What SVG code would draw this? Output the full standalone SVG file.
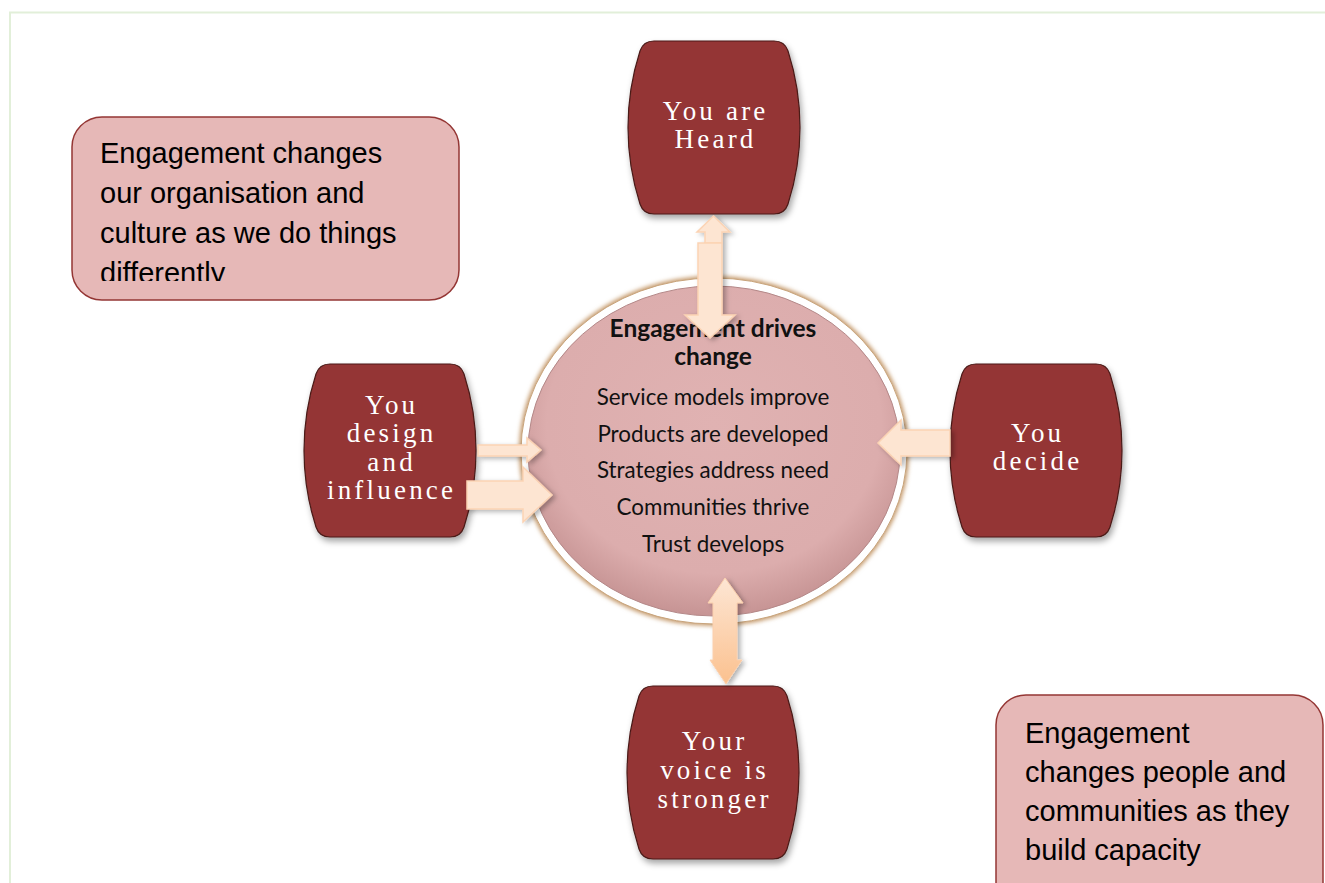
<svg xmlns="http://www.w3.org/2000/svg" xmlns:xlink="http://www.w3.org/1999/xlink" width="1325" height="883" viewBox="0 0 1325 883">
  <style>
    .box { fill: #e6b8b7; stroke: #943634; stroke-width: 1.5; }
    .boxtext { font-family: "Liberation Sans", Arial, sans-serif; font-size: 29px; fill: #000; }
    .barrel { fill: #943634; stroke: #4a1a19; stroke-width: 1.2; }
    .ntext { font-family: "Liberation Serif", "Times New Roman", serif; font-size: 27px; fill: #fff; letter-spacing: 3.2px; text-anchor: middle; }
    .ctext { font-family: Lato, "Open Sans", sans-serif; font-size: 22.4px; fill: #111; text-anchor: middle; }
    .ctitle { font-weight: bold; font-size: 24.5px; }
    .arrow { fill: #fde5d2; stroke: #fbd3b4; stroke-width: 1.5; }
  </style>
  <defs>
    <path id="barrel" d="M 26,0 H 146 C 154,0 158,4 160,10 A 250 250 0 0 1 160,163 C 158,169 154,173 146,173 H 26 C 18,173 14,169 12,163 A 250 250 0 0 1 12,10 C 14,4 18,0 26,0 Z"/>
    <filter id="shadow" x="-20%" y="-20%" width="150%" height="150%">
      <feDropShadow dx="2" dy="4" stdDeviation="3" flood-color="#000" flood-opacity="0.35"/>
    </filter>
    <filter id="ashadow" x="-30%" y="-30%" width="170%" height="170%">
      <feDropShadow dx="3" dy="2" stdDeviation="2.5" flood-color="#000" flood-opacity="0.3"/>
    </filter>
    <filter id="glow" x="-10%" y="-10%" width="120%" height="120%">
      <feGaussianBlur stdDeviation="2"/>
    </filter>
    <radialGradient id="pink" cx="50%" cy="42%" r="60%">
      <stop offset="0" stop-color="#e0b2b2"/>
      <stop offset="0.75" stop-color="#dcadad"/>
      <stop offset="1" stop-color="#c39090"/>
    </radialGradient>
    <linearGradient id="peachV" x1="0" y1="0" x2="0" y2="1">
      <stop offset="0" stop-color="#fde6d4"/>
      <stop offset="1" stop-color="#fbc18f"/>
    </linearGradient>
    <clipPath id="clipTL">
      <rect x="72" y="117" width="388" height="164"/>
    </clipPath>
  </defs>

  <!-- frame -->
  <g id="frame" fill="none" stroke="#e2efd9" stroke-width="2">
    <line x1="9" y1="12.5" x2="1325" y2="12.5"/>
    <line x1="10" y1="12" x2="10" y2="883"/>
  </g>

  <!-- text boxes -->
  <g id="box-organisation">
    <rect class="box" x="72" y="117" width="387" height="183" rx="30" ry="30"/>
    <g clip-path="url(#clipTL)">
      <text class="boxtext" x="100" y="163">Engagement changes</text>
      <text class="boxtext" x="100" y="203">our organisation and</text>
      <text class="boxtext" x="100" y="243">culture as we do things</text>
      <text class="boxtext" x="100" y="283">differently</text>
    </g>
  </g>
  <g id="box-people">
    <rect class="box" x="996" y="695" width="327" height="230" rx="30" ry="30"/>
    <text class="boxtext" x="1025" y="743">Engagement</text>
    <text class="boxtext" x="1025" y="782">changes people and</text>
    <text class="boxtext" x="1025" y="821">communities as they</text>
    <text class="boxtext" x="1025" y="860">build capacity</text>
  </g>

  <!-- centre -->
  <g id="centre">
    <ellipse cx="714" cy="451" rx="195" ry="175" fill="#c59a6c" filter="url(#glow)"/>
    <ellipse cx="714" cy="451" rx="193" ry="173" fill="#ffffff" stroke="#c8a47c" stroke-width="1"/>
    <ellipse cx="714" cy="451" rx="186" ry="165" fill="url(#pink)" stroke="#b48888" stroke-width="1"/>
    <text class="ctext ctitle" x="713" y="337">Engagement drives</text>
    <text class="ctext ctitle" x="713" y="365">change</text>
    <text class="ctext" x="713" y="405">Service models improve</text>
    <text class="ctext" x="713" y="442">Products are developed</text>
    <text class="ctext" x="713" y="478">Strategies address need</text>
    <text class="ctext" x="713" y="515">Communities thrive</text>
    <text class="ctext" x="713" y="552">Trust develops</text>
  </g>

  <!-- nodes -->
  <g id="node-heard" transform="translate(628,41)">
    <use xlink:href="#barrel" class="barrel" filter="url(#shadow)"/>
    <text class="ntext" x="87.6" y="79">You are</text>
    <text class="ntext" x="87.6" y="107">Heard</text>
  </g>
  <g id="node-design" transform="translate(304,364)">
    <use xlink:href="#barrel" class="barrel" filter="url(#shadow)"/>
    <text class="ntext" x="87.6" y="50">You</text>
    <text class="ntext" x="87.6" y="78">design</text>
    <text class="ntext" x="87.6" y="107">and</text>
    <text class="ntext" x="87.6" y="135">influence</text>
  </g>
  <g id="node-decide" transform="translate(950,364)">
    <use xlink:href="#barrel" class="barrel" filter="url(#shadow)"/>
    <text class="ntext" x="87.6" y="78">You</text>
    <text class="ntext" x="87.6" y="106">decide</text>
  </g>
  <g id="node-voice" transform="translate(627,686)">
    <use xlink:href="#barrel" class="barrel" filter="url(#shadow)"/>
    <text class="ntext" x="87.6" y="64">Your</text>
    <text class="ntext" x="87.6" y="93">voice is</text>
    <text class="ntext" x="87.6" y="122">stronger</text>
  </g>

  <!-- connectors -->
  <g id="connectors" filter="url(#ashadow)">
    <path class="arrow" d="M 713.5,216 L 730,232 L 722,232 L 722,243 L 705,243 L 705,232 L 697,232 Z"/>
    <path class="arrow" d="M 698,243 H 722 V 315 H 735 L 710,338 L 685,315 H 698 Z"/>
    <path class="arrow" d="M 478,445 H 527 V 438 L 541,450 L 527,462 V 456 H 478 Z"/>
    <path class="arrow" d="M 467,481 H 523 V 467 L 552,495 L 523,522 V 509 H 467 Z"/>
    <path class="arrow" d="M 950,430 H 901 V 420 L 878,443 L 901,465 V 456 H 950 Z"/>
    <path d="M 725,578 L 743,603 H 737 V 660 H 742 L 726,684 L 710,660 H 713 V 603 H 708 Z" fill="url(#peachV)" stroke="#fbd0ad" stroke-width="1"/>
  </g>
</svg>
